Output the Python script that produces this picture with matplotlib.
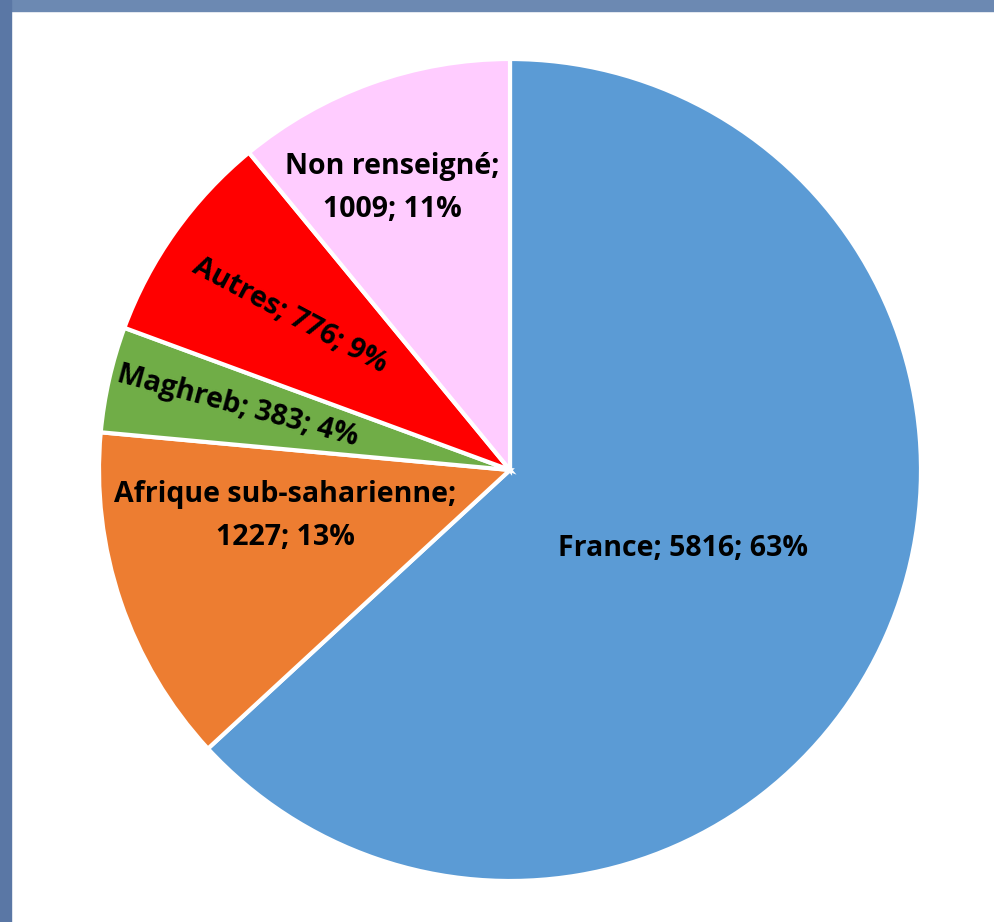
import matplotlib.pyplot as plt
from matplotlib.patches import Rectangle

regions = ['France', 'Afrique sub-saharienne', 'Maghreb', 'Autres', 'Non renseigné']
effectifs = [5816, 1227, 383, 776, 1009]
pourcents = [63, 13, 4, 9, 11]
couleurs = ['#5B9BD5', '#ED7D31', '#70AD47', '#FF0000', '#FFCCFF']

W, H = 994, 922
fig = plt.figure(figsize=(W / 100, H / 100), dpi=100)
ax = fig.add_axes([0, 0, 1, 1])

# bandeau bleu (haut et gauche)
ax.add_patch(Rectangle((0, H - 11), W, 11, color='#6c89b2', zorder=0))
ax.add_patch(Rectangle((0, 0), 11, H, color='#5a77a5', zorder=0))

ax.pie(effectifs, colors=couleurs, startangle=90, counterclock=False,
       center=(510, H - 470), radius=411, frame=True,
       wedgeprops={'edgecolor': 'white', 'linewidth': 3})
ax.set_xlim(0, W)
ax.set_ylim(0, H)
ax.axis('off')

font = dict(family='Open Sans', fontsize=20.5, fontweight='bold', color='black',
            ha='center', va='center', linespacing=1.6)

def lab(i, sep):
    return f'{regions[i]};{sep}{effectifs[i]}; {pourcents[i]}%'

ax.text(683, H - 549, lab(0, ' '), **font)
ax.text(285, H - 516, lab(1, '\n'), **font)
ax.text(238, H - 406, lab(2, ' '), rotation=-15, rotation_mode='anchor', **font)
ax.text(290, H - 316, lab(3, ' '), rotation=-28, rotation_mode='anchor', **font)
ax.text(392, H - 188, lab(4, '\n'), **font)

fig.savefig('out.png', dpi=100)
